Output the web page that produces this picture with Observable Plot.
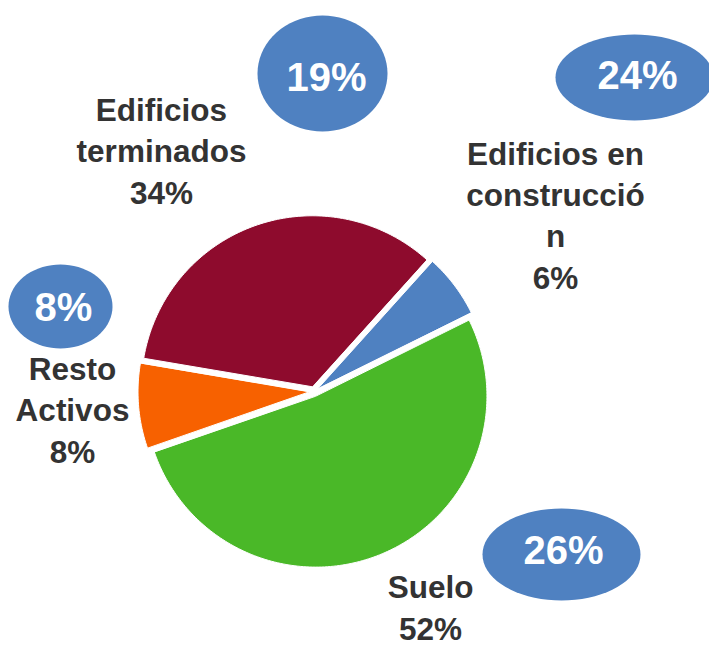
<!DOCTYPE html>
<html>
<head>
<meta charset="utf-8">
<script src="https://cdn.jsdelivr.net/npm/d3@7"></script>
<script src="https://cdn.jsdelivr.net/npm/@observablehq/plot@0.6"></script>
<style>
  html, body { margin: 0; padding: 0; background: #ffffff; }
  #chart svg { display: block; }
</style>
</head>
<body>
<div id="chart"></div>
<script>
// ---- data ----
const categories = ["Edificios en construcción", "Suelo", "Resto Activos", "Edificios terminados"];
const shares = [6, 52, 8, 34];
const labelNames = ["Edificios en\nconstrucció\nn", "Suelo", "Resto\nActivos", "Edificios\nterminados"];
const bubbleValues = [24, 26, 8, 19];

// ---- layout & style (pixels) ----
const W = 709, H = 645;
const colors = ["#4F81C1", "#4AB828", "#F76100", "#8E0B2D"];
const pie = {cx: 313.5, cy: 391, r: 171, explode: 5, startDeg: 42};
const labelPos = [[555, 288], [430, 639], [72, 462], [161, 203]];
const bubblePos = [[634, 77, 79, 43], [561, 554, 79, 46], [60, 306, 52, 42], [322, 73, 65, 58]];
const bubbleTextPos = [[637, 88], [563, 563], [63, 320], [326, 90]];

// ---- build pie slice polygons from the data ----
const arcs = d3.pie().sort(null).value(d => d.share)
  .startAngle(pie.startDeg * Math.PI / 180)
  .endAngle(pie.startDeg * Math.PI / 180 + 2 * Math.PI)(
    categories.map((name, i) => ({name, share: shares[i]}))
  );
const slicePts = [];
for (const a of arcs) {
  const mid = (a.startAngle + a.endAngle) / 2;
  const ox = pie.cx + pie.explode * Math.sin(mid);
  const oy = pie.cy - pie.explode * Math.cos(mid);
  slicePts.push({name: a.data.name, x: ox, y: oy});
  const n = Math.max(2, Math.ceil((a.endAngle - a.startAngle) / (Math.PI / 180)));
  for (let k = 0; k <= n; ++k) {
    const t = a.startAngle + (a.endAngle - a.startAngle) * k / n;
    slicePts.push({name: a.data.name, x: ox + pie.r * Math.sin(t), y: oy - pie.r * Math.cos(t)});
  }
}

// ---- bubble ellipses ----
const bubblePts = [];
bubbleValues.forEach((v, i) => {
  const [cx, cy, rx, ry] = bubblePos[i];
  for (let k = 0; k < 72; ++k) {
    const t = k / 72 * 2 * Math.PI;
    bubblePts.push({id: categories[i], x: cx + rx * Math.cos(t), y: cy + ry * Math.sin(t)});
  }
});

const labels = categories.map((c, i) => ({
  text: labelNames[i] + "\n" + shares[i] + "%",
  x: labelPos[i][0], y: labelPos[i][1]
}));
const bubbleLabels = bubbleValues.map((v, i) => ({
  text: v + "%", x: bubbleTextPos[i][0], y: bubbleTextPos[i][1]
}));

const font = "'Liberation Sans', Arial, Helvetica, sans-serif";

const chart = Plot.plot({
  width: W, height: H,
  margin: 0,
  style: {background: "#ffffff", fontFamily: font},
  x: {domain: [0, W], range: [0, W], axis: null},
  y: {domain: [0, H], range: [0, H], axis: null},
  color: {domain: categories, range: colors},
  marks: [
    Plot.line(slicePts, {x: "x", y: "y", z: "name", fill: "name", stroke: "white", strokeWidth: 1, curve: "linear-closed"}),
    Plot.line(bubblePts, {x: "x", y: "y", z: "id", fill: "#4F81C1", stroke: "none", curve: "linear-closed"}),
    Plot.text(labels, {x: "x", y: "y", text: "text", lineAnchor: "bottom", lineHeight: 1.31,
      fontSize: 31.5, fontWeight: "bold", fill: "#333333", textAnchor: "middle"}),
    Plot.text(bubbleLabels, {x: "x", y: "y", text: "text", lineAnchor: "bottom",
      fontSize: 40, fontWeight: "bold", fill: "#ffffff", textAnchor: "middle"})
  ]
});
document.getElementById("chart").appendChild(chart);
</script>
</body>
</html>
